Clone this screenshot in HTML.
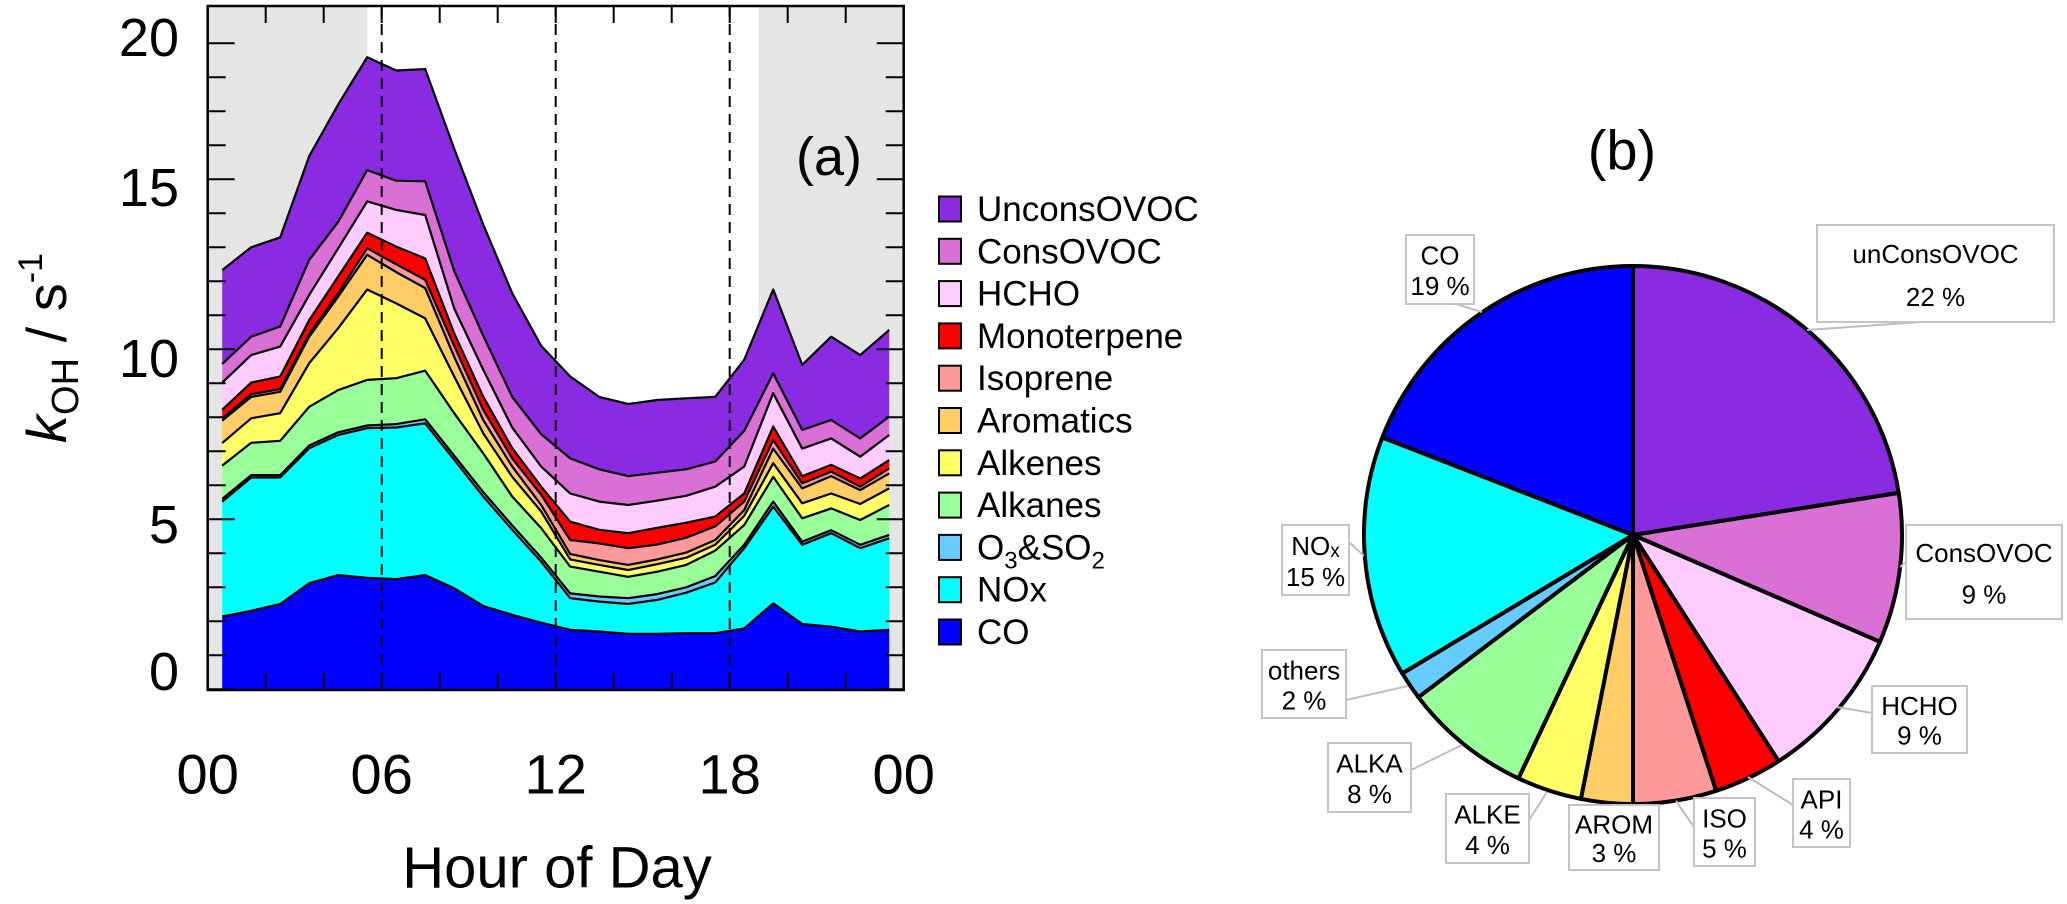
<!DOCTYPE html>
<html><head><meta charset="utf-8"><style>
html,body{margin:0;padding:0;background:#fff;}
svg{display:block;font-family:"Liberation Sans",sans-serif;}
</style></head><body>
<svg id="fig" width="2067" height="904" viewBox="0 0 2067 904" xmlns="http://www.w3.org/2000/svg">
<g id="panelA"></g>
<g id="legend"></g>
<g id="panelB"></g>
</svg>
<script>
const hours = [0.5,1.5,2.5,3.5,4.5,5.5,6.5,7.5,8.5,9.5,10.5,11.5,12.5,13.5,14.5,15.5,16.5,17.5,18.5,19.5,20.5,21.5,22.5,23.5];
const coVals = [2.14,2.31,2.51,3.12,3.36,3.28,3.24,3.36,2.97,2.45,2.19,1.96,1.75,1.70,1.63,1.63,1.65,1.65,1.79,2.53,1.92,1.84,1.70,1.75];
const noxVals = [3.38,3.92,3.72,3.97,4.12,4.40,4.46,4.46,3.78,3.22,2.50,1.79,0.93,0.88,0.88,1.00,1.19,1.49,2.36,2.84,2.33,2.75,2.45,2.69];
const o3so2Vals = [0.08,0.07,0.07,0.08,0.08,0.08,0.10,0.12,0.12,0.13,0.13,0.12,0.14,0.15,0.17,0.17,0.16,0.19,0.10,0.15,0.09,0.09,0.10,0.10];
const alkaneVals = [0.98,0.95,1.01,1.14,1.24,1.34,1.35,1.43,1.25,1.14,0.85,0.87,0.79,0.73,0.63,0.66,0.66,0.75,0.58,0.73,0.69,0.64,0.73,0.88];
const alkeneVals = [0.66,0.72,0.81,1.28,1.82,2.66,2.20,1.54,1.08,0.59,0.58,0.49,0.21,0.20,0.20,0.22,0.21,0.17,0.27,0.40,0.44,0.44,0.47,0.49];
const aromVals = [0.66,0.63,0.63,0.78,0.93,1.02,0.92,0.89,0.58,0.39,0.30,0.19,0.16,0.14,0.15,0.14,0.15,0.14,0.17,0.43,0.44,0.51,0.41,0.44];
const isopVals = [0.07,0.08,0.08,0.08,0.10,0.19,0.23,0.24,0.32,0.30,0.24,0.30,0.41,0.49,0.49,0.44,0.44,0.40,0.25,0.25,0.15,0.13,0.10,0.15];
const monoVals = [0.25,0.34,0.37,0.41,0.49,0.46,0.52,0.63,0.37,0.39,0.30,0.24,0.54,0.40,0.44,0.49,0.44,0.29,0.24,0.40,0.21,0.20,0.24,0.24];
const hchoVals = [0.80,0.81,0.88,0.74,0.83,0.92,1.08,1.28,0.73,0.79,0.61,0.59,0.83,0.83,0.83,0.80,0.79,0.88,0.79,0.98,0.81,0.78,0.64,0.74];
const consVals = [0.55,0.54,0.59,1.03,0.78,0.92,0.86,0.99,1.10,1.00,0.90,0.95,1.03,0.95,0.85,0.82,0.78,0.74,1.05,0.58,0.55,0.54,0.54,0.54];
const unconsVals = [2.76,2.63,2.62,3.05,3.45,3.32,3.24,3.30,3.60,3.27,3.05,2.60,2.41,2.13,2.12,2.14,2.09,1.90,2.09,2.47,1.91,2.45,2.45,2.55];
const seriesNames = ["CO","NOx","O3&SO2","Alkanes","Alkenes","Aromatics","Isoprene","Monoterpene","HCHO","ConsOVOC","UnconsOVOC"];
const yTickValues = [0,5,10,15,19];
const yTickLabels = ["0","5","10","15","20"];
const xTickHours = [0,6,12,18,24];
const xTickLabels = ["00","06","12","18","00"];
const pieLabels = ["unConsOVOC","ConsOVOC","HCHO","API","ISO","AROM","ALKE","ALKA","others","NOx","CO"];
const pieValues = [22.5,9.0,9.4,4.1,5.0,3.1,3.9,7.7,1.7,14.5,19.1];
const piePctText = ["22 %","9 %","9 %","4 %","5 %","3 %","4 %","8 %","2 %","15 %","19 %"];

const NS="http://www.w3.org/2000/svg";
function mk(tag, attrs, parent){const e=document.createElementNS(NS,tag);for(const k in attrs)e.setAttribute(k,attrs[k]);parent.appendChild(e);return e;}
const X0=207.7, X1=903.7, YT=6, YB=690;
function xs(h){return 207.7+29*h;}
function ys(v){return 689.3-34*v;}

const A=document.getElementById('panelA');
const sh1=mk('rect',{x:X0,y:YT,width:xs(5.5)-X0,height:YB-YT,fill:'#e5e5e5'},A);


const sh2=mk('rect',{x:xs(19),y:YT,width:X1-xs(19),height:YB-YT,fill:'#e5e5e5'},A);



const series=[coVals,noxVals,o3so2Vals,alkaneVals,alkeneVals,aromVals,isopVals,monoVals,hchoVals,consVals,unconsVals];
const colors=["#0000ff","#00ffff","#66ccff","#99ff99","#ffff66","#ffcc66","#ff9999","#ff0000","#ffccff","#da70d6","#8a2be2"];
let base=hours.map(()=>0);
const layers=[];
series.forEach((s,i)=>{
  const top=base.map((b,j)=>b+s[j]);
  let d='';
  hours.forEach((h,j)=>{d+=(j?'L':'M')+xs(h).toFixed(1)+','+ys(top[j]).toFixed(1);});
  for(let j=hours.length-1;j>=0;j--){d+='L'+xs(hours[j]).toFixed(1)+','+ys(base[j]).toFixed(1);}
  d+='Z';
  layers.push({d,top,i});
  base=top;
});
for(let k=layers.length-1;k>=0;k--){
  const L=layers[k];
  const p=mk('path',{d:L.d,fill:colors[L.i],stroke:'none'},A);
  
  
}
layers.forEach(L=>{
  let d='';
  hours.forEach((h,j)=>{d+=(j?'L':'M')+xs(h).toFixed(1)+','+ys(L.top[j]).toFixed(1);});
  const p=mk('path',{d,fill:'none',stroke:'#000','stroke-width':2.2,'stroke-linejoin':'round'},A);
  
  
});
[6,12,18].forEach(h=>{
  const l=mk('line',{x1:xs(h),x2:xs(h),y1:YT,y2:YB,stroke:'#000','stroke-width':2,'stroke-dasharray':'11,7'},A);
  
  
});
for(let v=0;v<=19;v++){
  const major=yTickValues.indexOf(v)>=0;const len=major?27:18;
  const t1=mk('line',{x1:X0,x2:X0+len,y1:ys(v),y2:ys(v),stroke:'#000','stroke-width':2},A);
  
  
  const t2=mk('line',{x1:X1,x2:X1-len,y1:ys(v),y2:ys(v),stroke:'#000','stroke-width':2},A);
  
  
}
for(let h=2;h<24;h+=2){
  const t1=mk('line',{x1:xs(h),x2:xs(h),y1:YT,y2:YT+17,stroke:'#000','stroke-width':2},A);
  
  
  const t2=mk('line',{x1:xs(h),x2:xs(h),y1:YB,y2:YB-17,stroke:'#000','stroke-width':2},A);
  
  
}
const fr=mk('rect',{x:X0,y:YT,width:X1-X0,height:YB-YT,fill:'none',stroke:'#000','stroke-width':2.5},A);


const yLabelY=[672,525,359,188,38];
yTickLabels.forEach((s,i)=>{
  const t=mk('text',{x:179,y:yLabelY[i],'text-anchor':'end','dominant-baseline':'central','font-size':54,fill:'#000'},A);
  t.textContent=s;
  
  
});
xTickLabels.forEach((s,i)=>{
  const t=mk('text',{x:xs(xTickHours[i]),y:774,'text-anchor':'middle','dominant-baseline':'central','font-size':56,fill:'#000'},A);
  t.textContent=s;
  
  
});
const xt=mk('text',{x:557,y:868,'text-anchor':'middle','dominant-baseline':'central','font-size':58,fill:'#000'},A);
xt.textContent='Hour of Day';


const yt=mk('text',{x:0,y:0,'text-anchor':'middle','font-size':56,fill:'#000',transform:'translate(66,348) rotate(-90)'},A);


yt.innerHTML='<tspan font-style="italic">k</tspan><tspan font-size="38" dy="12">OH</tspan><tspan dy="-12"> / s</tspan><tspan font-size="34" dy="-24">-1</tspan>';
const la=mk('text',{x:829,y:157,'text-anchor':'middle','dominant-baseline':'central','font-size':54,fill:'#000'},A);
la.textContent='(a)';



const G=document.getElementById('legend');
const legOrder=[10,9,8,7,6,5,4,3,2,1,0];
legOrder.forEach((si,r)=>{
  const cy=209+42.3*r;
  const g=mk('g',{},G);
  
  
  mk('rect',{x:939,y:cy-12.5,width:22,height:25,fill:colors[si],stroke:'#000','stroke-width':2},g);
  const t=mk('text',{x:977,y:cy+12,'font-size':35,fill:'#000'},g);
  if(si===2){t.innerHTML='O<tspan font-size="24" dy="9">3</tspan><tspan dy="-9">&amp;SO</tspan><tspan font-size="24" dy="9">2</tspan>';}
  else t.textContent=seriesNames[si];
});

const B=document.getElementById('panelB');
const CX=1633, CY=535, R=269;
const pieColors=["#8a2be2","#da70d6","#ffccff","#ff0000","#ff9999","#ffcc66","#ffff66","#99ff99","#66ccff","#00ffff","#0000ff"];
const tot=pieValues.reduce((a,b)=>a+b,0);
let acc=0;
pieValues.forEach((v,i)=>{
  const a0=acc/tot*2*Math.PI; acc+=v; const a1=acc/tot*2*Math.PI;
  const p0=[CX+R*Math.sin(a0),CY-R*Math.cos(a0)], p1=[CX+R*Math.sin(a1),CY-R*Math.cos(a1)];
  const large=(a1-a0)>Math.PI?1:0;
  const s=mk('path',{d:`M${CX},${CY}L${p0[0].toFixed(1)},${p0[1].toFixed(1)}A${R},${R} 0 ${large} 1 ${p1[0].toFixed(1)},${p1[1].toFixed(1)}Z`,fill:pieColors[i],stroke:'#000','stroke-width':4,'stroke-linejoin':'round'},B);
  
  
});
const pb=mk('text',{x:1622,y:150,'text-anchor':'middle','dominant-baseline':'central','font-size':56,fill:'#000'},B);
pb.textContent='(b)';


const boxes=[
 [1817,225,237,97,'1857,322 1920,322 1807,330'],
 [1906,525,156,94,'1906,545 1906,562 1900,567'],
 [1872,686,95,67,'1872,697 1872,713 1837,707'],
 [1793,779,57,68,'1793,790 1793,805 1748,777'],
 [1694,798,61,68,'1694,808 1694,827 1676,801'],
 [1569,805,90,65,''],
 [1446,794,83,69,'1529,802 1529,820 1547,792'],
 [1328,743,83,69,'1411,753 1411,770 1462,745'],
 [1262,650,84,68,'1346,684 1346,700 1408,686'],
 [1282,525,67,70,'1349,525 1349,542 1364,556'],
 [1406,235,68,69,'1440,304 1456,304 1482,312']
];
boxes.forEach((b,i)=>{
  const g=mk('g',{},B);
  
  
  if(b[4]) mk('polyline',{points:b[4],fill:'none',stroke:'#bdbdbd','stroke-width':2},g);
  mk('rect',{x:b[0],y:b[1],width:b[2],height:b[3],fill:'#fff',stroke:'#c4c4c4','stroke-width':2},g);
  const cx=b[0]+b[2]/2, c1=b[1]+b[3]*0.3, c2=b[1]+b[3]*0.74;
  const t1=mk('text',{x:cx,y:c1,'text-anchor':'middle','dominant-baseline':'central','font-size':26,fill:'#000'},g);
  if(pieLabels[i]==='NOx') t1.innerHTML='NO<tspan font-size="19" dy="5">x</tspan>'; else t1.textContent=pieLabels[i];
  const t2=mk('text',{x:cx,y:c2,'text-anchor':'middle','dominant-baseline':'central','font-size':26,fill:'#000'},g);
  t2.textContent=piePctText[i];
});
</script>
</body></html>
